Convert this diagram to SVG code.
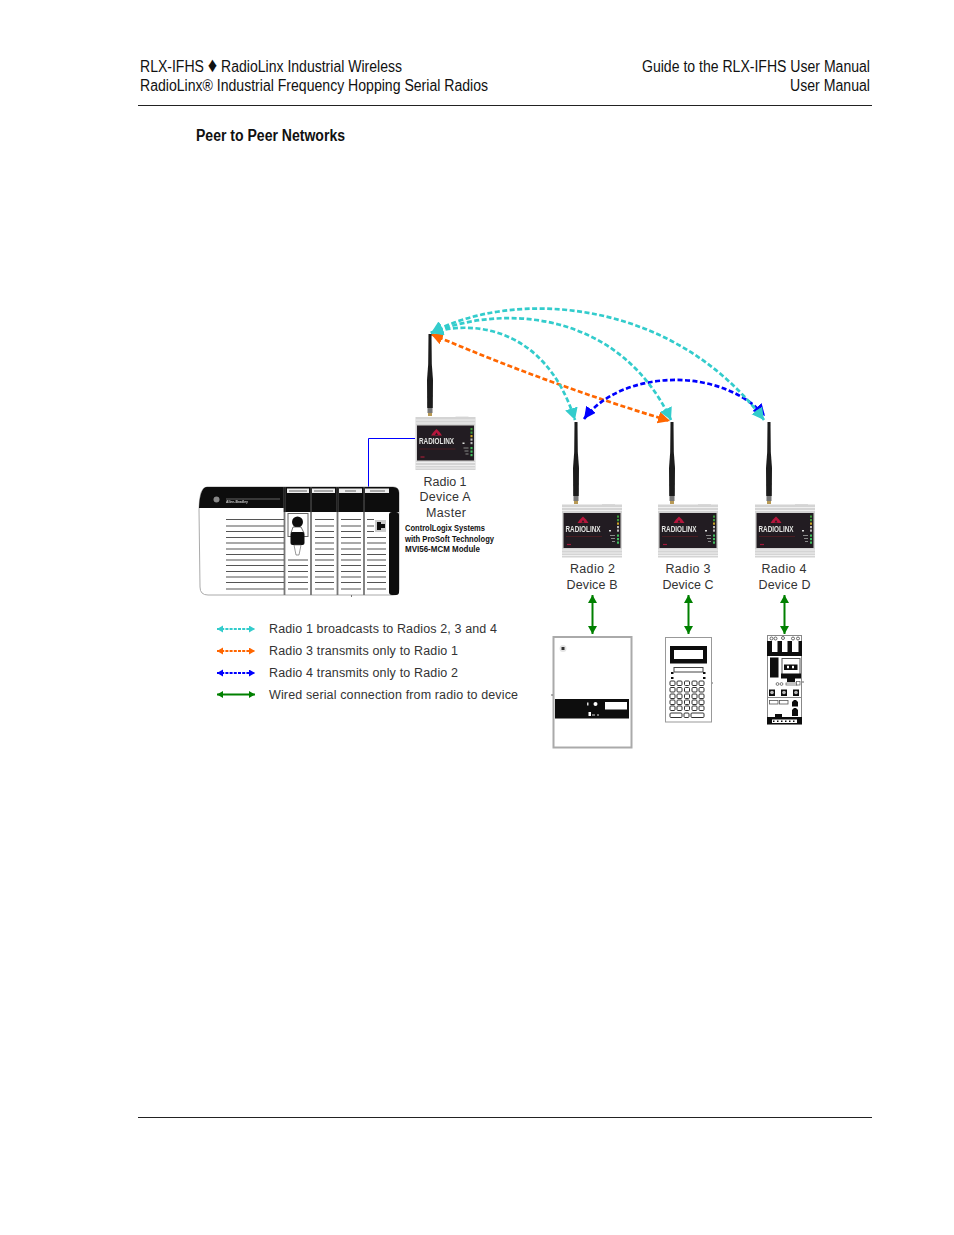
<svg xmlns="http://www.w3.org/2000/svg" xmlns:xlink="http://www.w3.org/1999/xlink" width="954" height="1235" viewBox="0 0 954 1235">
<style>
text{font-family:"Liberation Sans",Arial,sans-serif}
.hd{font-size:16px;fill:#111}
.lb{font-size:12.5px;fill:#333;text-anchor:middle}
.lg{font-size:12.5px;fill:#333}
.cl{font-size:9px;font-weight:bold;fill:#111}
.rule{stroke:#222;stroke-width:1;fill:none}
.arc{fill:none;stroke-width:2.7;stroke-dasharray:5 2.5}
.cy{stroke:#33cccc}.or{stroke:#ff6600}.bl{stroke:#0000ff}
.wire{fill:none;stroke:#008000;stroke-width:2}
.leg{fill:none;stroke-width:1.8;stroke-dasharray:3 1.2}
.slotline{stroke:#555;stroke-width:1.2}
.btn{fill:#fff;stroke:#333;stroke-width:1}
.art{filter:url(#soft)}
</style>
<defs>
<filter id="soft" x="-5%" y="-5%" width="110%" height="110%"><feGaussianBlur stdDeviation="0.35"/></filter>
<marker id="hc" markerUnits="userSpaceOnUse" markerWidth="15" markerHeight="14" refX="12" refY="6.500" orient="auto-start-reverse"><path d="M0 0L12 6.500L0 13z" fill="#33cccc"/></marker>
<marker id="ho" markerUnits="userSpaceOnUse" markerWidth="15" markerHeight="14" refX="12" refY="6" orient="auto-start-reverse"><path d="M0 0L12 6L0 12z" fill="#ff6600"/></marker>
<marker id="hb" markerUnits="userSpaceOnUse" markerWidth="15" markerHeight="14" refX="12" refY="6" orient="auto-start-reverse"><path d="M0 0L12 6L0 12z" fill="#0000ff"/></marker>
<marker id="hg" markerUnits="userSpaceOnUse" markerWidth="10" markerHeight="10" refX="8" refY="4.500" orient="auto-start-reverse"><path d="M0 0L8 4.500L0 9z" fill="#008000"/></marker>
<marker id="lc" markerUnits="userSpaceOnUse" markerWidth="8" markerHeight="8" refX="6" refY="3.500" orient="auto-start-reverse"><path d="M0 0L6 3.500L0 7z" fill="#33cccc"/></marker>
<marker id="lo" markerUnits="userSpaceOnUse" markerWidth="8" markerHeight="8" refX="6" refY="3.500" orient="auto-start-reverse"><path d="M0 0L6 3.500L0 7z" fill="#ff6600"/></marker>
<marker id="lb" markerUnits="userSpaceOnUse" markerWidth="8" markerHeight="8" refX="6" refY="3.500" orient="auto-start-reverse"><path d="M0 0L6 3.500L0 7z" fill="#0000ff"/></marker>
<marker id="lg" markerUnits="userSpaceOnUse" markerWidth="8" markerHeight="8" refX="6" refY="3.500" orient="auto-start-reverse"><path d="M0 0L6 3.500L0 7z" fill="#008000"/></marker>
<g id="radio">
<path d="M40 0.500h13v1.500h-13z" fill="#ddd"/>
<rect x="0" y="1" width="60" height="53" fill="#d4d4d4"/>
<path d="M0 4H60M0 7H60M0 46.500H60M0 49.500H60M0 52H60" stroke="#efefef" stroke-width="1" fill="none"/>
<rect x="1.500" y="9.500" width="57" height="35" fill="#231f20"/>
<path d="M21 13L24 16L26.500 19.500H15.500L18 16z" fill="#b5173c"/>
<path d="M21 16.500l1.500 2.500h-3z" fill="#231f20"/>
<text x="3.500" y="28" font-size="9" font-weight="bold" style="fill:#e4e4e4" textLength="35" lengthAdjust="spacingAndGlyphs">RADIOLINX</text>
<path d="M4 33H40" stroke="#5a1a24" stroke-width=".7"/>
<path d="M5 41h4" stroke="#a0183a" stroke-width="1.200"/>
<g><rect x="55" y="12" width="2" height="2.200" fill="#3c9a3c"/><rect x="55" y="15.500" width="2" height="2.200" fill="#3c9a3c"/><rect x="55" y="19" width="2" height="2.200" fill="#c9a227"/><rect x="55" y="22.500" width="2" height="2.200" fill="#bbb"/><rect x="55" y="26" width="2" height="2.200" fill="#bbb"/><rect x="55" y="31" width="2" height="2.200" fill="#3fbf5f"/><rect x="55" y="34.500" width="2" height="2.200" fill="#3fbf5f"/><rect x="55" y="38" width="2" height="2.200" fill="#3fbf5f"/><rect x="47" y="26.500" width="2" height="1.500" fill="#ddd"/></g>
<path d="M48 32h5M49 35h4M50 38h3" stroke="#888" stroke-width="1.200"/>
</g>
<g id="antenna">
<path d="M-1.500 0H1.500L1.800 30L3 46L2.800 74H-2.800L-3 46L-1.800 30z" fill="#1c1c1c"/>
<rect x="-2.500" y="74" width="5" height="5" fill="#777"/>
<rect x="-2" y="79" width="4" height="3" fill="#b89a55"/>
</g>
</defs>

<g id="page-header">
<text class="hd" x="140" y="72" textLength="262" lengthAdjust="spacingAndGlyphs">RLX-IFHS <tspan style="font-size:21px">♦</tspan> RadioLinx Industrial Wireless</text>
<text class="hd" x="140" y="91" textLength="348" lengthAdjust="spacingAndGlyphs">RadioLinx® Industrial Frequency Hopping Serial Radios</text>
<text class="hd" x="642" y="72" textLength="228" lengthAdjust="spacingAndGlyphs">Guide to the RLX-IFHS User Manual</text>
<text class="hd" x="790" y="91" textLength="80" lengthAdjust="spacingAndGlyphs">User Manual</text>
<path class="rule" d="M138 105.500H872"/>
<text x="196" y="141" font-size="16" font-weight="bold" fill="#111" textLength="149" lengthAdjust="spacingAndGlyphs">Peer to Peer Networks</text>
<path class="rule" d="M138 1117.500H872"/>
</g>

<g id="connectors">
<path d="M415 438.500H368.500V487" fill="none" stroke="#0000ff" stroke-width="1"/>
<path class="arc or" d="M431 334Q550 385 670 421" marker-start="url(#ho)" marker-end="url(#ho)"/>
<path class="arc bl" d="M584 419C620 370 720 365 765 416" marker-start="url(#hb)" marker-end="url(#hb)"/>
<path class="arc cy" d="M431 333C470 320 545 325 575 420" marker-start="url(#hc)" marker-end="url(#hc)"/>
<path class="arc cy" d="M431 333C505 303 620 312 671 420" marker-start="url(#hc)" marker-end="url(#hc)"/>
<path class="arc cy" d="M431 333C510 290 670 295 764 420" marker-start="url(#hc)" marker-end="url(#hc)"/>
<path class="wire" d="M592.500 595V634" marker-start="url(#hg)" marker-end="url(#hg)"/>
<path class="wire" d="M688.500 595V634" marker-start="url(#hg)" marker-end="url(#hg)"/>
<path class="wire" d="M784.500 595V634" marker-start="url(#hg)" marker-end="url(#hg)"/>
</g>

<g id="radio-1">
<g class="art"><use href="#antenna" x="430" y="334"/>
<use href="#radio" x="415.500" y="416"/></g>
<text class="lb" x="445" y="486" textLength="43">Radio 1</text>
<text class="lb" x="445" y="501" textLength="51">Device A</text>
<text class="lb" x="446" y="517" textLength="40">Master</text>
</g>
<g id="radio-2">
<g class="art"><use href="#antenna" x="576" y="422"/>
<use href="#radio" x="562" y="503.500"/></g>
<text class="lb" x="592.500" y="573" textLength="45">Radio 2</text>
<text class="lb" x="592" y="589" textLength="51">Device B</text>
</g>
<g id="radio-3">
<g class="art"><use href="#antenna" x="672" y="422"/>
<use href="#radio" x="658" y="503.500"/></g>
<text class="lb" x="688" y="573" textLength="45">Radio 3</text>
<text class="lb" x="688" y="589" textLength="51">Device C</text>
</g>
<g id="radio-4">
<g class="art"><use href="#antenna" x="769" y="422"/>
<use href="#radio" x="755" y="503.500"/></g>
<text class="lb" x="784" y="573" textLength="45">Radio 4</text>
<text class="lb" x="784.500" y="589" textLength="52">Device D</text>
</g>

<g id="controllogix">
<g class="art">
<path d="M207 487H393Q399 487 399 493V589Q399 595 393 595H208Q200 595 200 587L199 510Q199 487 207 487z" fill="#fff" stroke="#aaa" stroke-width="1"/>
<path d="M207 487H393Q399 487 399 493V512H284V508H199Q200 487 207 487z" fill="#0a0a0a"/>
<rect x="389" y="512" width="10" height="83" rx="3" fill="#0a0a0a"/>
<circle cx="216.500" cy="499.500" r="3" fill="#888"/>
<path d="M226 499H280" stroke="#666" stroke-width="1"/>
<text x="226" y="503" font-size="4" font-weight="bold" style="fill:#ccc" textLength="22" lengthAdjust="spacingAndGlyphs">Allen-Bradley</text>
<g fill="#eee"><rect x="287" y="488.500" width="22" height="4.500"/><rect x="312" y="488.500" width="23" height="4.500"/><rect x="339" y="488.500" width="23" height="4.500"/><rect x="365" y="488.500" width="24" height="4.500"/></g>
<path d="M289 491H307M314 491H333M345 491H356M370 491H385" stroke="#666" stroke-width="1"/>
<path d="M284.500 487V595M311 487V595M337.500 487V595M364 487V595" stroke="#777" stroke-width="1.800"/>
<path d="M284.500 487V512M311 487V512M337.500 487V512M364 487V512" stroke="#222" stroke-width="1.500"/>
<path class="slotline" d="M226 519.500H284M226 526H284M226 531.500H284M226 537.500H284M226 543H284M226 549H284M226 554.500H284M226 560H284M226 565.500H284M226 571.500H284M226 577H284M226 582.500H284M226 589H284"/>
<path class="slotline" d="M315 519.500H334M315 526H334M315 531.500H334M315 537.500H334M315 543H334M315 549H334M315 554.500H334M315 560H334M315 565.500H334M315 571.500H334M315 577H334M315 582.500H334M315 589H334"/>
<path class="slotline" d="M341 519.500H361M341 526H361M341 531.500H361M341 537.500H361M341 543H361M341 549H361M341 554.500H361M341 560H361M341 565.500H361M341 571.500H361M341 577H361M341 582.500H361M341 589H361"/>
<path class="slotline" d="M367 519.500H374M367 526H374M367 531.500H374M367 537.500H386M367 543H386M367 549H386M367 554.500H386M367 560H386M367 565.500H386M367 571.500H386M367 577H386M367 582.500H386M367 589H386"/>
<path class="slotline" d="M288 560H308M288 565.500H308M288 571.500H308M288 577H308M288 582.500H308M288 589H308"/>
<rect x="288" y="513.500" width="20" height="23" fill="#fff" stroke="#666"/>
<circle cx="297.500" cy="522" r="5.500" fill="#111"/>
<path d="M293 527L301 527L304 533H291z" fill="#fff" stroke="#333" stroke-width=".7"/>
<rect x="290.500" y="532" width="14" height="13" rx="2" fill="#111"/>
<path d="M294 545H301L299 555H296z" fill="#fff" stroke="#555" stroke-width=".6"/>
<rect x="375" y="520" width="11" height="12" fill="#ccc"/>
<path d="M377 522H381V524H385V528H381V530H377z" fill="#111"/>
<path d="M351.500 595V597" stroke="#777" stroke-width="1"/>
</g>
<text class="cl" x="405" y="531" textLength="80" lengthAdjust="spacingAndGlyphs">ControlLogix Systems</text>
<text class="cl" x="405" y="542" textLength="89" lengthAdjust="spacingAndGlyphs">with ProSoft Technology</text>
<text class="cl" x="405" y="552" textLength="75" lengthAdjust="spacingAndGlyphs">MVI56-MCM Module</text>
</g>

<g id="device-b" class="art">
<rect x="553.500" y="637" width="78" height="110.500" fill="#fff" stroke="#aaa" stroke-width="2"/>
<circle cx="563" cy="648.500" r="3.500" fill="#e4e4e4"/>
<rect x="561.500" y="647" width="3" height="3" fill="#333"/>
<rect x="555" y="699" width="74" height="19.500" fill="#0a0a0a"/>
<rect x="605" y="702" width="22" height="7.500" fill="#fff"/>
<circle cx="595.500" cy="704" r="2" fill="#fff"/>
<rect x="587" y="702.500" width="1.500" height="3" fill="#ddd"/>
<rect x="588.500" y="712" width="2.500" height="4" fill="#fff"/>
<path d="M592 715H595M597 715H599" stroke="#ddd" stroke-width="1"/>
<path d="M551 695H553" stroke="#666" stroke-width="1"/>
</g>

<g id="device-c" class="art">
<rect x="665.500" y="637.500" width="46" height="84.500" fill="#fff" stroke="#999" stroke-width="1"/>
<rect x="670" y="646" width="37" height="17.500" fill="#0a0a0a"/>
<rect x="674" y="650" width="29" height="9" fill="#fff"/>
<rect x="674" y="667.500" width="29" height="4.500" fill="#fff" stroke="#444"/>
<g fill="#111"><rect x="671" y="672" width="2.500" height="2"/><rect x="671" y="677" width="2.500" height="2"/><rect x="703" y="672" width="2.500" height="2"/><rect x="703" y="677" width="2.500" height="2"/></g>
<g class="btn">
<rect x="670" y="681" width="5" height="4.500" rx="1"/><rect x="677" y="681" width="5" height="4.500" rx="1"/><rect x="684.500" y="681" width="5" height="4.500" rx="1"/><rect x="692" y="681" width="5" height="4.500" rx="1"/><rect x="699" y="681" width="5" height="4.500" rx="1"/>
<rect x="670" y="687.500" width="5" height="4.500" rx="1"/><rect x="677" y="687.500" width="5" height="4.500" rx="1"/><rect x="684.500" y="687.500" width="5" height="4.500" rx="1"/><rect x="692" y="687.500" width="5" height="4.500" rx="1"/><rect x="699" y="687.500" width="5" height="4.500" rx="1"/>
<rect x="670" y="694" width="5" height="4.500" rx="1"/><rect x="677" y="694" width="5" height="4.500" rx="1"/><rect x="684.500" y="694" width="5" height="4.500" rx="1"/><rect x="692" y="694" width="5" height="4.500" rx="1"/><rect x="699" y="694" width="5" height="4.500" rx="1"/>
<rect x="670" y="700" width="5" height="4.500" rx="1"/><rect x="677" y="700" width="5" height="4.500" rx="1"/><rect x="684.500" y="700" width="5" height="4.500" rx="1"/><rect x="692" y="700" width="5" height="4.500" rx="1"/><rect x="699" y="700" width="5" height="4.500" rx="1"/>
<rect x="670" y="706" width="5" height="4.500" rx="1"/><rect x="677" y="706" width="5" height="4.500" rx="1"/><rect x="684.500" y="706" width="5" height="4.500" rx="1"/><rect x="692" y="706" width="5" height="4.500" rx="1"/><rect x="699" y="706" width="5" height="4.500" rx="1"/>
<rect x="670" y="713" width="12" height="4.500" rx="1"/><rect x="684" y="713" width="5" height="4.500" rx="1"/><rect x="691" y="713" width="13" height="4.500" rx="1"/>
</g>
<path d="M712 683H713" stroke="#666"/>
</g>

<g id="device-d" class="art">
<rect x="767.500" y="635.500" width="34" height="88" fill="#fff" stroke="#888" stroke-width="1"/>
<rect x="767" y="641" width="35" height="15" fill="#0a0a0a"/>
<g fill="#fff"><rect x="772" y="641" width="5.500" height="11"/><rect x="782" y="641" width="5.500" height="11"/><rect x="792" y="641" width="6.500" height="11"/></g>
<g fill="#fff" stroke="#444" stroke-width=".8"><circle cx="771.500" cy="638.500" r="1.500"/><circle cx="775.500" cy="638.500" r="1.500"/><circle cx="783" cy="638" r="1.500"/><circle cx="793" cy="638.500" r="1.500"/><circle cx="798" cy="638.500" r="1.500"/></g>
<rect x="770" y="657.500" width="8.500" height="20" fill="#0a0a0a"/>
<rect x="782" y="658.500" width="18" height="16" fill="#fff" stroke="#555"/>
<rect x="784" y="664.500" width="13.500" height="5.500" fill="#0a0a0a"/>
<rect x="787" y="665.800" width="2" height="2.500" fill="#fff"/><rect x="792" y="665.800" width="2" height="2.500" fill="#fff"/>
<path d="M781 673.500H801V678.500H795V682H787V678.500H781z" fill="#0a0a0a"/>
<circle cx="777.500" cy="684" r="1.400" fill="#fff" stroke="#444" stroke-width=".7"/><circle cx="781.500" cy="684" r="1.400" fill="#fff" stroke="#444" stroke-width=".7"/>
<rect x="786" y="683" width="11" height="2" fill="#fff" stroke="#555" stroke-width=".7"/>
<rect x="796.500" y="681.500" width="3.500" height="3.500" fill="#fff" stroke="#555" stroke-width=".7"/>
<path d="M802 682H804" stroke="#666" stroke-width="1"/>
<g fill="#111"><rect x="769" y="689.500" width="6" height="6.500"/><rect x="781" y="689.500" width="6" height="6.500"/><rect x="793" y="689.500" width="6" height="6.500"/></g>
<g fill="#bbb"><circle cx="772" cy="692.500" r="1.800"/><circle cx="784" cy="692.500" r="1.800"/><circle cx="796" cy="692.500" r="1.800"/></g>
<path d="M767 697.500H802" stroke="#888" stroke-width="1"/>
<g fill="#fff" stroke="#555" stroke-width=".8"><rect x="769.500" y="700.500" width="8.500" height="3.500"/><rect x="779.500" y="700.500" width="8.500" height="3.500"/></g>
<path d="M792 706.500V702L794 700H796L798 702V706.500zM792 716V710L794 708H796L798 710V716z" fill="#0a0a0a"/>
<rect x="775" y="714" width="7" height="3.500" fill="#0a0a0a"/>
<rect x="767" y="717" width="35" height="7.500" fill="#0a0a0a"/>
<rect x="772" y="719.500" width="25" height="3.500" fill="#fff"/>
<path d="M773 721.300H796" stroke="#111" stroke-width="1.500" stroke-dasharray="1.500 2.500"/>
</g>

<g id="legend">
<path class="leg cy" d="M217 629H255" marker-start="url(#lc)" marker-end="url(#lc)"/>
<path class="leg or" d="M217 651H255" marker-start="url(#lo)" marker-end="url(#lo)"/>
<path class="leg bl" d="M217 673H255" marker-start="url(#lb)" marker-end="url(#lb)"/>
<path d="M217 694.500H255" fill="none" stroke="#008000" stroke-width="1.800" marker-start="url(#lg)" marker-end="url(#lg)"/>
<text class="lg" x="269" y="633" textLength="228">Radio 1 broadcasts to Radios 2, 3 and 4</text>
<text class="lg" x="269" y="655" textLength="189">Radio 3 transmits only to Radio 1</text>
<text class="lg" x="269" y="677" textLength="189">Radio 4 transmits only to Radio 2</text>
<text class="lg" x="269" y="699" textLength="249">Wired serial connection from radio to device</text>
</g>
</svg>
